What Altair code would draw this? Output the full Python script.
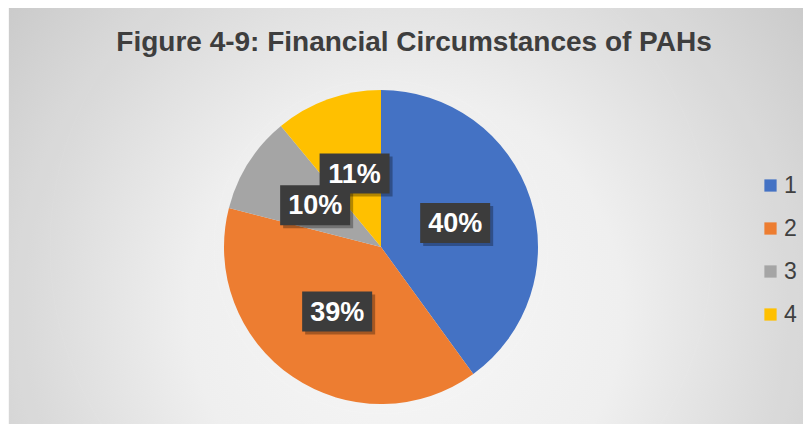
import altair as alt
import pandas as pd

# ---- data ----
title_text = "Figure 4-9: Financial Circumstances of PAHs"
categories = ["1", "2", "3", "4"]
shares = [40, 39, 10, 11]
colors = ["#4472C4", "#ED7D31", "#A5A5A5", "#FFC000"]

df = pd.DataFrame({"cat": categories, "value": shares,
                   "order": list(range(len(categories)))})

# ---- layout constants ----
W, H = 795, 416
CX, CY, R, LR = 373, 239, 157, 78
BW, BH = 35, 20

bg = alt.Chart(pd.DataFrame({"k": [0]})).mark_rect(
    color=alt.RadialGradient(
        gradient="radial",
        stops=[alt.GradientStop(offset=0, color="#FFFFFF"),
               alt.GradientStop(offset=0.35, color="#F7F7F7"),
               alt.GradientStop(offset=1, color="#C2C2C2")],
        x1=0.5, y1=0.62, r1=0, x2=0.5, y2=0.62, r2=0.78),
).encode(x=alt.value(1), x2=alt.value(W), y=alt.value(0), y2=alt.value(H))

title = alt.Chart(pd.DataFrame({"t": [title_text]})).mark_text(
    font="Liberation Sans", fontSize=28, fontWeight="bold", color="#404040",
    align="center", baseline="alphabetic"
).encode(text="t:N", x=alt.value(406), y=alt.value(43))

glow = alt.Chart(pd.DataFrame({"r": [167, 164, 161]})).mark_arc(
    theta=0, theta2=6.2832, color="#000000", opacity=0.03
).encode(radius=alt.Radius("r:Q", scale=None), x=alt.value(CX), y=alt.value(CY))

pie = alt.Chart(df).mark_arc(radius=R).encode(
    theta=alt.Theta("value:Q", stack=True),
    order=alt.Order("order:Q"),
    color=alt.Color("cat:N", sort=categories,
                    scale=alt.Scale(domain=categories, range=colors),
                    legend=alt.Legend(orient="none", legendX=751, legendY=166,
                                      title=None, symbolType="square",
                                      symbolSize=150, symbolStrokeWidth=0,
                                      symbolOpacity=1,
                                      labelFont="Liberation Sans",
                                      labelFontSize=23, labelColor="#404040",
                                      labelOffset=2, rowPadding=19)),
    x=alt.value(CX), y=alt.value(CY))

lab = alt.Chart(df).transform_window(
    cum="sum(value)", sort=[alt.SortField("order")], frame=[None, 0]
).transform_joinaggregate(total="sum(value)").transform_calculate(
    mid="(datum.cum - datum.value/2)/datum.total*2*PI"
).transform_calculate(
    bx=f"{CX} + {LR}*sin(datum.mid)",
    by=f"{CY} - {LR}*cos(datum.mid)",
    label="datum.value + '%'"
).transform_calculate(
    x1=f"datum.bx - {BW}", x2=f"datum.bx + {BW}",
    y1=f"datum.by - {BH}", y2=f"datum.by + {BH}",
    sx1=f"datum.bx - {BW} + 3", sx2=f"datum.bx + {BW} + 3",
    sy1=f"datum.by - {BH} + 3", sy2=f"datum.by + {BH} + 3",
)

shadow = lab.mark_rect(color="#000000", opacity=0.3).encode(
    x=alt.X("sx1:Q", scale=None, axis=None), x2="sx2:Q",
    y=alt.Y("sy1:Q", scale=None, axis=None), y2="sy2:Q")

boxes = lab.mark_rect(color="#3C3C3C").encode(
    x=alt.X("x1:Q", scale=None, axis=None), x2="x2:Q",
    y=alt.Y("y1:Q", scale=None, axis=None), y2="y2:Q")

texts = lab.mark_text(font="Liberation Sans", fontSize=27, fontWeight="bold",
                      color="#FFFFFF", align="center", baseline="middle", dy=1
                      ).encode(text="label:N",
                               x=alt.X("bx:Q", scale=None, axis=None),
                               y=alt.Y("by:Q", scale=None, axis=None))

chart = alt.layer(bg, title, glow, pie, shadow, boxes, texts).properties(
    width=W, height=H, padding=0, autosize="none", background="#FFFFFF"
).configure_view(stroke=None)

chart.save("out.html", embed_options={"renderer": "svg", "actions": False})
